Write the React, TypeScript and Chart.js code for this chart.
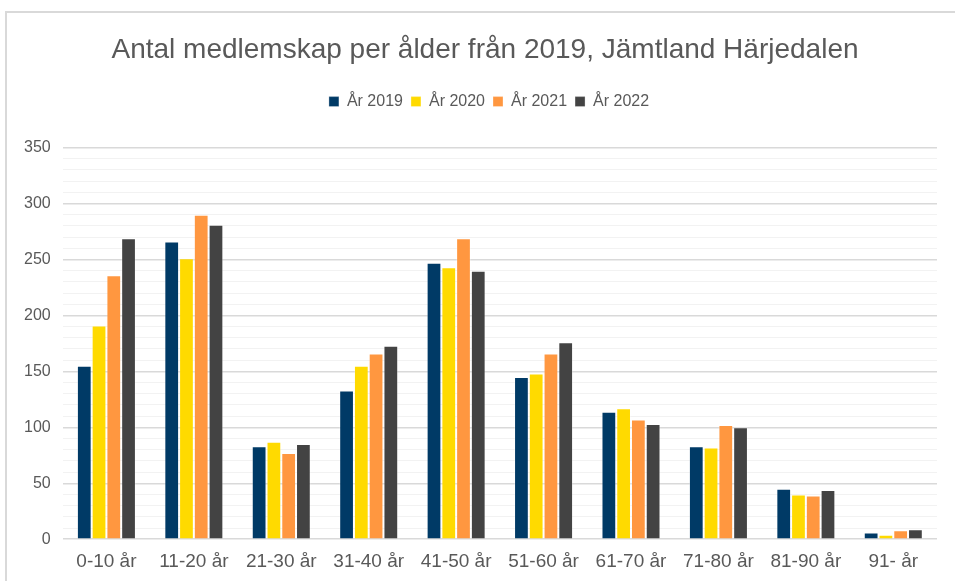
import React, { useEffect, useRef } from "react";
import { Chart, registerables } from "chart.js";

Chart.register(...registerables);

const categories = [
  "0-10 år",
  "11-20 år",
  "21-30 år",
  "31-40 år",
  "41-50 år",
  "51-60 år",
  "61-70 år",
  "71-80 år",
  "81-90 år",
  "91- år",
];
const seriesNames = ["År 2019", "År 2020", "År 2021", "År 2022"];
const values2019 = [155, 266, 83, 133, 247, 145, 114, 83, 45, 6];
const values2020 = [191, 251, 87, 155, 243, 148, 117, 82, 40, 4];
const values2021 = [236, 290, 77, 166, 269, 166, 107, 102, 39, 8];
const values2022 = [269, 281, 85, 173, 240, 176, 103, 100, 44, 9];
const seriesColors = ["#003A66", "#FFDA00", "#FF9740", "#434343"];
const titleText = "Antal medlemskap per ålder från 2019, Jämtland Härjedalen";

const FONT = "'Liberation Sans', Arial, sans-serif";

const legendSpacer = {
  id: "legendSpacer",
  beforeInit(chart: any) {
    const orig = chart.legend.fit;
    chart.legend.fit = function () {
      orig.bind(chart.legend)();
      this.height += 28;
    };
  },
  afterLayout(chart: any) {
    const t = chart.titleBlock;
    if (t) {
      t.left += 10.5;
      t.right += 10.5;
    }
    const l = chart.legend;
    if (l) {
      l.left += 14.5;
      l.right += 14.5;
    }
  },
};

export default function App() {
  const ref = useRef<HTMLCanvasElement | null>(null);
  useEffect(() => {
    if (!ref.current) return;
    const allValues = [values2019, values2020, values2021, values2022];
    const chart = new Chart(ref.current, {
      type: "bar",
      data: {
        labels: categories,
        datasets: allValues.map((vals, i) => ({
          label: seriesNames[i],
          data: vals,
          backgroundColor: seriesColors[i],
          borderColor: "rgba(255,255,255,0.3)",
          borderWidth: 1,
          categoryPercentage: 0.675,
          barPercentage: 1,
        })),
      },
      plugins: [legendSpacer],
      options: {
        responsive: false,
        animation: false,
        layout: { padding: { left: 12, right: 18, top: 33, bottom: 9 } },
        plugins: {
          title: {
            display: true,
            text: titleText,
            color: "#595959",
            font: { family: FONT, size: 28, weight: "normal" },
            padding: { top: 0, bottom: 19 },
          },
          legend: {
            position: "top",
            labels: {
              color: "#595959",
              font: { family: FONT, size: 16 },
              boxWidth: 10,
              boxHeight: 10,
              padding: 8,
            },
          },
          tooltip: { enabled: false },
        },
        scales: {
          x: {
            grid: { display: false, drawTicks: false },
            border: { display: false },
            ticks: {
              color: "#595959",
              font: { family: FONT, size: 19 },
              padding: 11,
            },
          },
          y: {
            min: 0,
            max: 350,
            border: { display: false },
            grid: {
              drawTicks: false,
              color: (ctx: any) => (ctx.tick && ctx.tick.value % 50 === 0 ? "#d9d9d9" : "#f2f2f2"),
              lineWidth: (ctx: any) => (ctx.tick && ctx.tick.value % 50 === 0 ? 1.5 : 1),
            },
            ticks: {
              stepSize: 10,
              autoSkip: false,
              color: "#595959",
              font: { family: FONT, size: 16 },
              padding: 12,
              callback: (v: any) => (Number(v) % 50 === 0 ? String(v) : ""),
            },
          },
        },
      },
    });
    return () => chart.destroy();
  }, []);
  return (
    <div style={{ position: "absolute", left: 0, top: 0, width: 955, height: 581, overflow: "hidden", background: "#fff" }}>
      <div
        style={{
          position: "absolute",
          left: 5,
          top: 11,
          width: 1000,
          height: 700,
          borderLeft: "2px solid #d9d9d9",
          borderTop: "2px solid #d9d9d9",
        }}
      />
      <canvas ref={ref} width={955} height={593} style={{ position: "absolute", left: 0, top: 0, display: "block" }} />
    </div>
  );
}
